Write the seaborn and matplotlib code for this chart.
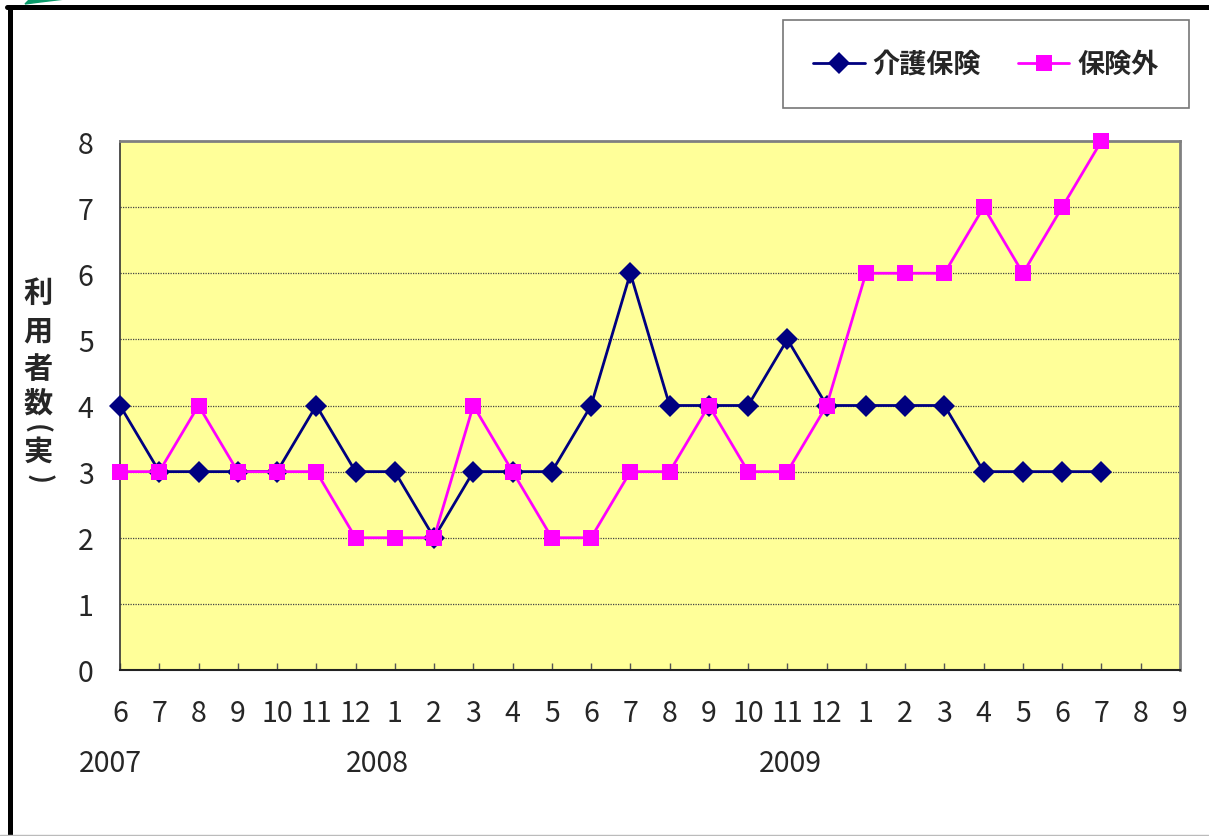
import numpy as np
import pandas as pd
import matplotlib
matplotlib.use("Agg")
import matplotlib.pyplot as plt
import seaborn as sns
from matplotlib.lines import Line2D
from matplotlib.patches import Polygon
import matplotlib.transforms as mtransforms

# --- DATA ---
month_labels = ["6", "7", "8", "9", "10", "11", "12",
                "1", "2", "3", "4", "5", "6", "7", "8", "9", "10", "11", "12",
                "1", "2", "3", "4", "5", "6", "7", "8", "9"]
year_labels = ["2007", "2008", "2009"]
year_pos = [-0.25, 6.55, 17.07]   # x position (category units) of the year captions

kaigo = [4, 3, 3, 3, 3, 4, 3, 3, 2, 3, 3, 3, 4, 6, 4, 4, 4, 5, 4, 4, 4, 4, 3, 3, 3, 3]
hokengai = [3, 3, 4, 3, 3, 3, 2, 2, 2, 4, 3, 2, 2, 3, 3, 4, 3, 3, 4, 6, 6, 6, 7, 6, 7, 8]
series_names = ["介護保険", "保険外"]
ylabel_chars = ["利", "用", "者", "数", "(", "実", ")"]

df = pd.concat([
    pd.DataFrame({"idx": np.arange(len(kaigo)), "count": kaigo, "series": series_names[0]}),
    pd.DataFrame({"idx": np.arange(len(hokengai)), "count": hokengai, "series": series_names[1]}),
])

# --- STYLE ---
sns.set_style("white")
plt.rcParams['font.family'] = ['Noto Sans CJK JP', 'DejaVu Sans']

W, H = 1209, 837
fig = plt.figure(figsize=(W / 100, H / 100), dpi=100)
ax = fig.add_axes([120 / W, 1 - 671 / H, (1180 - 120) / W, (671 - 142) / H])
ax.set_facecolor("#FFFF99")

palette = {"介護保険": "#000080", "保険外": "#FF00FF"}
sns.lineplot(data=df, x="idx", y="count", hue="series", style="series",
             markers={"介護保険": "D", "保険外": "s"}, dashes=False,
             palette=palette, linewidth=2, markersize=11, markeredgewidth=0,
             ax=ax, legend=False, clip_on=False, zorder=3)

ax.set_xlim(0, len(month_labels) - 1)
ax.set_ylim(0, 8)
ax.set_xticks(range(len(month_labels)))
ax.set_xticklabels(month_labels)
ax.set_yticks(range(0, 9))
ax.set_xlabel("")
ax.set_ylabel("")
ax.tick_params(axis="x", direction="in", length=5, width=1, color="#555555",
               labelsize=20.5, pad=20, bottom=True)
ax.tick_params(axis="y", length=0, labelsize=20.5, pad=19, left=False)

for y in range(1, 8):
    ax.axhline(y, color="#444444", linestyle=(0, (1, 1)), linewidth=0.9, zorder=0.5)

for side in ["top", "right"]:
    ax.spines[side].set_color("#808080")
    ax.spines[side].set_linewidth(2)
ax.spines["left"].set_color("#333333")
ax.spines["left"].set_linewidth(1.2)
ax.spines["bottom"].set_color("#222222")
ax.spines["bottom"].set_linewidth(1.5)

# year captions under the month ticks
trans = mtransforms.blended_transform_factory(ax.transData, fig.transFigure)
for xp, yl in zip(year_pos, year_labels):
    ax.text(xp, 1 - 764 / H, yl, transform=trans, ha="center", va="center",
            fontsize=20.5, clip_on=False)

# vertical y label, one character per row; brackets turned for vertical writing
ylabel_y = [293, 331, 369, 404, 429, 452, 479]
for ch, yp in zip(ylabel_chars, ylabel_y):
    rot = -90 if ch in "()" else 0
    fig.text((36 if ch == "(" else 38) / W, 1 - yp / H, ch, ha="center", va="center",
             rotation=rot, fontsize=21 if rot == 0 else 19, fontweight="bold")

# legend box
handles = [Line2D([], [], color=palette[n], marker=m, markersize=11, linewidth=2,
                  markeredgewidth=0) for n, m in zip(series_names, ["D", "s"])]
leg = fig.legend(handles, series_names, loc="center", ncol=2,
                 bbox_to_anchor=(986 / W, 1 - 65 / H), frameon=True, fancybox=False,
                 prop={"size": 19.5, "weight": "bold"}, handlelength=1.9,
                 columnspacing=1.35, handletextpad=0.3, borderpad=1.1,
                 borderaxespad=0)
leg.get_frame().set_edgecolor("#555555")
leg.get_frame().set_linewidth(1.2)

# outer frame and corner decoration
fig.add_artist(Line2D([9.5 / W, 9.5 / W], [0, 1 - 7.5 / H], color="black", linewidth=3.6,
                      transform=fig.transFigure))
fig.add_artist(Line2D([7 / W, 1], [1 - 7.5 / H, 1 - 7.5 / H], color="black", linewidth=3.6,
                      transform=fig.transFigure))
fig.add_artist(Line2D([0, 1], [1 - 835.5 / H, 1 - 835.5 / H], color="#BBBBBB", linewidth=1,
                      transform=fig.transFigure))
fig.add_artist(Polygon([[25 / W, 1 - 5 / H], [30 / W, 1], [65 / W, 1], [40 / W, 1 - 3 / H]],
                       closed=True, color="#0A9A6A", transform=fig.transFigure))

fig.savefig("out.png", dpi=100)
